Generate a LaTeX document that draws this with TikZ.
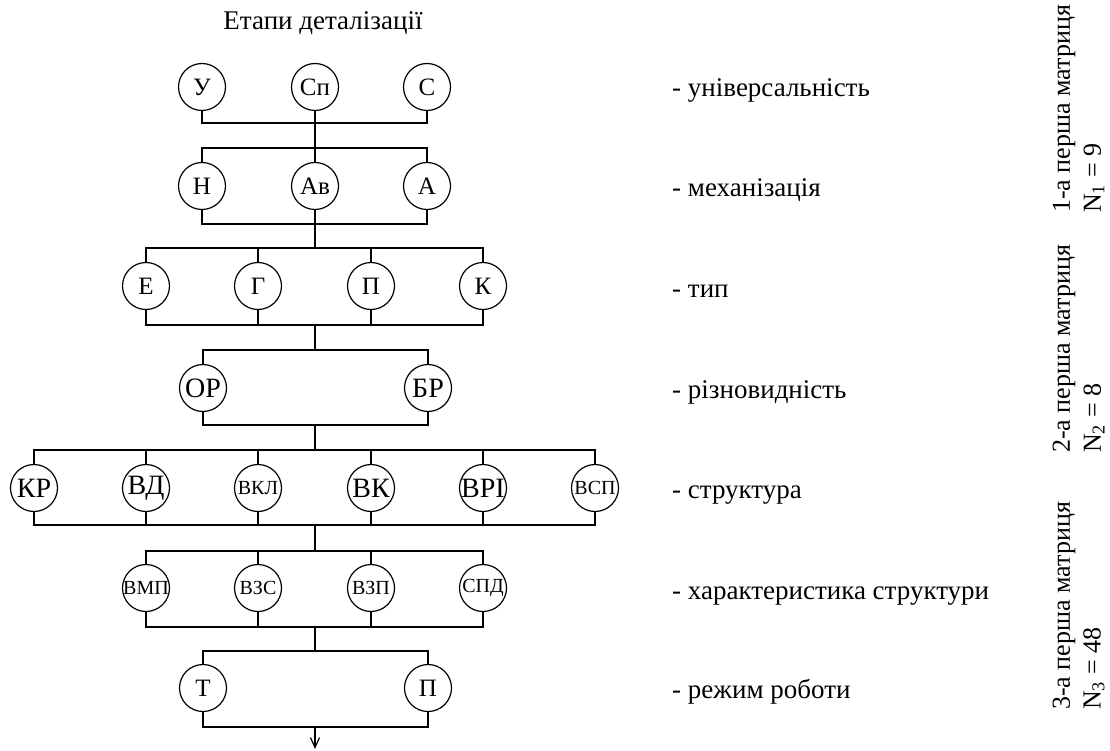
\documentclass[tikz,border=0pt]{standalone}
\usepackage{fontspec}
\setmainfont{Liberation Serif}
\usetikzlibrary{arrows.meta}
\newcommand{\mkc}[1]{\makebox[0pt]{#1}}
\begin{document}
\begin{tikzpicture}[x=1pt,y=-1pt,
  nd/.style={circle,draw,line width=1.2pt,minimum size=47pt,inner sep=0pt,font=\fontsize{25}{25}\selectfont},
  big/.style={font=\fontsize{28}{28}\selectfont},
  sm/.style={font=\fontsize{20}{20}\selectfont},
  wire/.style={line width=1.6pt},
  lbl/.style={anchor=base west,font=\fontsize{27}{27}\selectfont,inner sep=0pt},
  rot/.style={rotate=90,anchor=west,font=\fontsize{26}{26}\selectfont,inner sep=0pt}]
\useasboundingbox (0,0) rectangle (1110,751);
\node[anchor=base,font=\fontsize{27}{27}\selectfont,inner sep=0pt] (title) at (323,30) {Етапи деталізації};
% row 1
\node[nd] (U) at (202,87) {\mkc{У}};
\node[nd] (Sp) at (315,87) {\mkc{Сп}};
\node[nd] (Cc) at (427,87) {\mkc{С}};
% row 2
\node[nd] (H) at (202,186) {\mkc{Н}};
\node[nd] (Av) at (315,186) {\mkc{Ав}};
\node[nd] (A) at (427,186) {\mkc{А}};
% row 3
\node[nd] (E) at (146,286) {\mkc{Е}};
\node[nd] (G) at (258,286) {\mkc{Г}};
\node[nd] (P) at (371,286) {\mkc{П}};
\node[nd] (K) at (483,286) {\mkc{К}};
% row 4
\node[nd,big] (OR) at (203,388) {\mkc{ОР}};
\node[nd,big] (BR) at (428,388) {\mkc{БР}};
% row 5
\node[nd,big] (KR) at (34,488) {\mkc{КР}};
\node[nd,big] (VD) at (146,488) {\mkc{ВД}};
\node[nd,sm] (VKL) at (258,488) {\mkc{ВКЛ}};
\node[nd,big] (VK) at (371,488) {\mkc{ВК}};
\node[nd,big] (VRI) at (483,488) {\mkc{ВРІ}};
\node[nd,sm] (VSP) at (595,488) {\mkc{ВСП}};
% row 6
\node[nd,sm] (VMP) at (146,588) {\mkc{ВМП}};
\node[nd,sm] (VZS) at (258,588) {\mkc{ВЗС}};
\node[nd,sm] (VZP) at (371,588) {\mkc{ВЗП}};
\node[nd,sm] (SPD) at (483,588) {\mkc{СПД}};
% row 7
\node[nd] (T) at (203,688) {\mkc{Т}};
\node[nd] (P7) at (428,688) {\mkc{П}};
% bar coordinates
\coordinate (b1) at (315,123);
\coordinate (t2) at (315,148);
\coordinate (b2) at (315,224);
\coordinate (t3) at (315,248);
\coordinate (b3) at (315,325);
\coordinate (t4) at (315,350);
\coordinate (b4) at (315,425);
\coordinate (t5) at (315,450);
\coordinate (b5) at (315,525);
\coordinate (t6) at (315,551);
\coordinate (b6) at (315,627);
\coordinate (t7) at (315,651);
\coordinate (b7) at (315,727);
\coordinate (fin) at (315,749);
% connectors
\draw[wire] (U.south) |- (b1) -| (Cc.south);
\draw[wire] (Sp.south) -- (b1) -- (t2);
\draw[wire] (H.north) |- (t2) -| (A.north);
\draw[wire] (t2) -- (Av.north);
\draw[wire] (H.south) |- (b2) -| (A.south);
\draw[wire] (Av.south) -- (b2) -- (t3);
\draw[wire] (E.north) |- (t3) -| (K.north);
\draw[wire] (G.north) -- (G.north |- t3);
\draw[wire] (P.north) -- (P.north |- t3);
\draw[wire] (E.south) |- (b3) -| (K.south);
\draw[wire] (G.south) -- (G.south |- b3);
\draw[wire] (P.south) -- (P.south |- b3);
\draw[wire] (b3) -- (t4);
\draw[wire] (OR.north) |- (t4) -| (BR.north);
\draw[wire] (OR.south) |- (b4) -| (BR.south);
\draw[wire] (b4) -- (t5);
\draw[wire] (KR.north) |- (t5) -| (VSP.north);
\draw[wire] (VD.north) -- (VD.north |- t5);
\draw[wire] (VKL.north) -- (VKL.north |- t5);
\draw[wire] (VK.north) -- (VK.north |- t5);
\draw[wire] (VRI.north) -- (VRI.north |- t5);
\draw[wire] (KR.south) |- (b5) -| (VSP.south);
\draw[wire] (VD.south) -- (VD.south |- b5);
\draw[wire] (VKL.south) -- (VKL.south |- b5);
\draw[wire] (VK.south) -- (VK.south |- b5);
\draw[wire] (VRI.south) -- (VRI.south |- b5);
\draw[wire] (b5) -- (t6);
\draw[wire] (VMP.north) |- (t6) -| (SPD.north);
\draw[wire] (VZS.north) -- (VZS.north |- t6);
\draw[wire] (VZP.north) -- (VZP.north |- t6);
\draw[wire] (VMP.south) |- (b6) -| (SPD.south);
\draw[wire] (VZS.south) -- (VZS.south |- b6);
\draw[wire] (VZP.south) -- (VZP.south |- b6);
\draw[wire] (b6) -- (t7);
\draw[wire] (T.north) |- (t7) -| (P7.north);
\draw[wire] (T.south) |- (b7) -| (P7.south);
\draw[line width=1.2pt,-{Straight Barb[length=10pt,width=9pt,line width=1.2pt]}] (b7) -- (fin);
% labels
\node[lbl] (l1) at (672,97) {- універсальність};
\node[lbl] (l2) at (672,197) {- механізація};
\node[lbl] (l3) at (672,297) {- тип};
\node[lbl] (l4) at (672,398) {- різновидність};
\node[lbl] (l5) at (672,498) {- структура};
\node[lbl] (l6) at (672,599) {- характеристика структури};
\node[lbl] (l7) at (672,698) {- режим роботи};
% rotated
\node[rot] (m1) at (1064,213) {1-а перша матриця};
\node[rot] (n1) at (1094,213) {N\textsubscript{1} = 9};
\node[rot] (m2) at (1064,453) {2-а перша матриця};
\node[rot] (n2) at (1094,453) {N\textsubscript{2} = 8};
\node[rot] (m3) at (1064,710) {3-а перша матриця};
\node[rot] (n3) at (1094,710) {N\textsubscript{3} = 48};
\end{tikzpicture}
\end{document}
